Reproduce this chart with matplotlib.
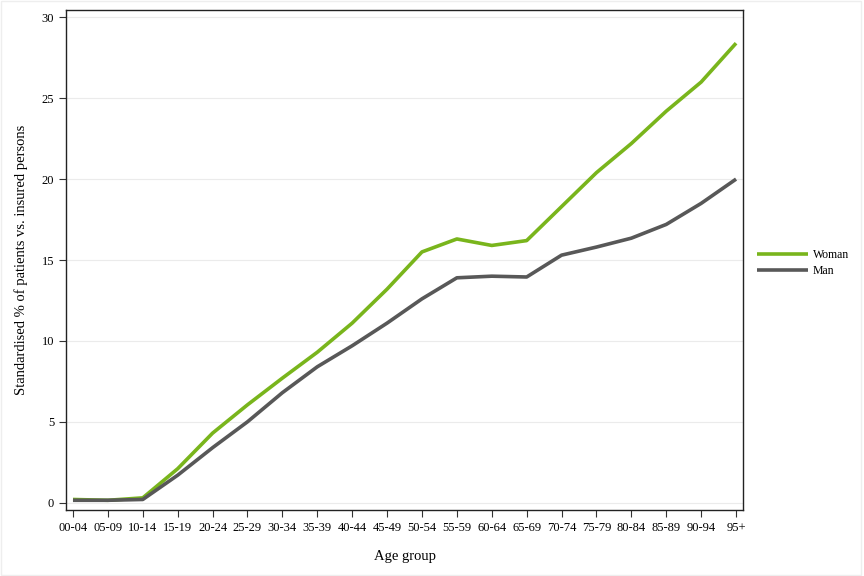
import matplotlib.pyplot as plt

plt.rcParams["font.family"] = "Liberation Serif"

age_groups = ["00-04", "05-09", "10-14", "15-19", "20-24", "25-29", "30-34",
              "35-39", "40-44", "45-49", "50-54", "55-59", "60-64", "65-69",
              "70-74", "75-79", "80-84", "85-89", "90-94", "95+"]
woman = [0.2, 0.15, 0.3, 2.1, 4.3, 6.05, 7.7, 9.3, 11.1, 13.2, 15.5, 16.3,
         15.9, 16.2, 18.3, 20.4, 22.2, 24.2, 26.0, 28.4]
man = [0.15, 0.15, 0.2, 1.7, 3.4, 5.0, 6.8, 8.4, 9.7, 11.1, 12.6, 13.9,
       14.0, 13.95, 15.3, 15.8, 16.35, 17.2, 18.5, 20.0]
y_ticks = [0, 5, 10, 15, 20, 25, 30]

fig = plt.figure(figsize=(8.64, 5.76), dpi=100)
ax = fig.add_axes([0.0764, 0.1146, 0.7836, 0.868])

x = range(len(age_groups))
ax.plot(x, woman, color="#79b51c", lw=2.6, label="Woman", solid_capstyle="butt")
ax.plot(x, man, color="#585858", lw=2.6, label="Man", solid_capstyle="butt")

ax.set_xlim(-0.2, len(age_groups) - 0.8)
ax.set_ylim(-0.45, 30.45)
ax.set_xticks(list(x))
ax.set_xticklabels(age_groups, fontsize=9)
ax.set_yticks(y_ticks)
ax.set_yticklabels([str(v) for v in y_ticks], fontsize=9)
ax.tick_params(direction="out", length=5, width=0.8, color="#333333")
ax.grid(axis="y", color="#ebebeb", lw=0.8)
ax.set_axisbelow(True)
for sp in ax.spines.values():
    sp.set_color("#222222")
    sp.set_linewidth(1.0)

ax.set_xlabel("Age group", fontsize=10.5, labelpad=12)
ax.set_ylabel("Standardised % of patients vs. insured persons", fontsize=10.5, labelpad=10)

ax.legend(loc="center left", bbox_to_anchor=(1.005, 0.494), frameon=False,
          fontsize=8.5, handlelength=4.3, handletextpad=0.4, labelspacing=0.4)

fig.patches.append(plt.Rectangle((0.001, 0.002), 0.996, 0.996, transform=fig.transFigure,
                                 fill=False, edgecolor="#eeeeee", lw=1))

fig.savefig("out.png", dpi=100)
